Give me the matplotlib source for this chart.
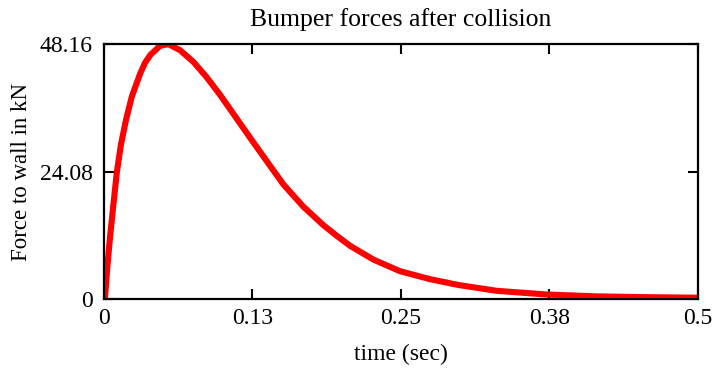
import numpy as np
import matplotlib.pyplot as plt

plt.rcParams['font.family'] = ['Liberation Serif', 'DejaVu Serif']

# Force on the wall after the bumper hits it (time in s, force in kN)
tiempo = [0.0, 0.0008, 0.0028, 0.005, 0.0079, 0.0108, 0.0142, 0.0187,
          0.0235, 0.0305, 0.0345, 0.039, 0.0471, 0.0541, 0.064, 0.0752,
          0.0864, 0.0976, 0.1095, 0.1229, 0.1369, 0.1509, 0.1677, 0.1846,
          0.1958, 0.2071, 0.2267, 0.2492, 0.2744, 0.2983, 0.3305, 0.3727,
          0.4147, 0.457, 0.5]
fuerza = [0.0, 0.2, 6.0, 11.5, 17.8, 23.9, 29.1, 34.0,
          38.3, 42.6, 44.6, 46.1, 47.8, 48.16, 47.0, 44.8,
          41.9, 38.6, 34.8, 30.5, 26.1, 21.7, 17.5, 14.0,
          12.0, 10.1, 7.5, 5.3, 3.8, 2.7, 1.6, 0.9,
          0.55, 0.4, 0.3]

xticks = [0, 0.125, 0.25, 0.375, 0.5]
xlabels = ["0", "0.13", "0.25", "0.38", "0.5"]
yticks = [0, 24.08, 48.16]
ylabels = ["0", "24.08", "48.16"]

fig = plt.figure(figsize=(7.17, 3.68), dpi=100)
ax = fig.add_axes([0.1450, 0.1867, 0.8285, 0.6937])

ax.plot(tiempo, fuerza, color="#ff0000", linewidth=4.4,
        solid_joinstyle="round", solid_capstyle="butt")

ax.set_xlim(0, 0.5)
ax.set_ylim(0, 48.16)
ax.set_xticks(xticks)
ax.set_xticklabels(xlabels)
ax.set_yticks(yticks)
ax.set_yticklabels(ylabels)
ax.tick_params(direction="in", length=7.5, width=1.5, top=True, right=True,
               labelsize=17, colors="black")
ax.tick_params(axis="x", pad=6)
ax.tick_params(axis="y", pad=8)
for s in ax.spines.values():
    s.set_linewidth(1.6)

ax.set_title("Bumper forces after collision", fontsize=18.5, pad=13)
ax.set_xlabel("time (sec)", fontsize=17, labelpad=11)
ax.set_ylabel("Force to wall in kN", fontsize=16.5, labelpad=6)

fig.savefig("out.png", dpi=100)
